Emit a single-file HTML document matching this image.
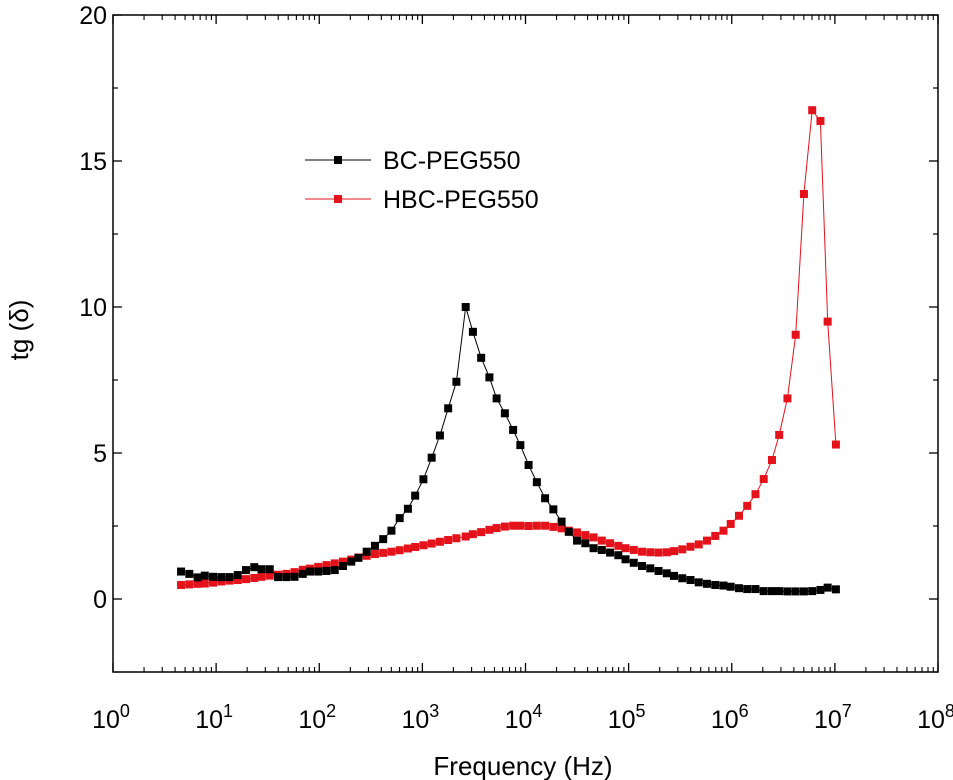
<!DOCTYPE html>
<html><head><meta charset="utf-8"><style>
html,body{margin:0;padding:0;background:#fff;}
svg{display:block;font-family:"Liberation Sans",sans-serif;}
</style></head><body>
<svg id="chart" width="953" height="780" viewBox="0 0 953 780"></svg>
<script>
const logFreq=[0.66,0.74,0.82,0.89,0.97,1.05,1.13,1.21,1.29,1.37,1.44,1.52,1.60,1.68,1.76,1.84,1.91,1.99,2.07,2.15,2.23,2.31,2.38,2.46,2.54,2.62,2.70,2.78,2.86,2.93,3.01,3.09,3.17,3.25,3.33,3.42,3.49,3.57,3.65,3.72,3.80,3.88,3.95,4.03,4.11,4.19,4.27,4.35,4.42,4.50,4.58,4.66,4.74,4.82,4.90,4.97,5.05,5.13,5.21,5.29,5.37,5.44,5.52,5.60,5.68,5.76,5.84,5.92,5.99,6.07,6.15,6.23,6.31,6.39,6.46,6.54,6.62,6.70,6.78,6.86,6.93,7.01];
const bcValues=[0.94,0.86,0.74,0.80,0.76,0.75,0.75,0.82,0.99,1.09,1.02,1.02,0.75,0.75,0.76,0.86,0.94,0.94,0.96,0.99,1.13,1.28,1.41,1.62,1.82,2.05,2.34,2.77,3.09,3.54,4.10,4.84,5.60,6.53,7.44,10.0,9.15,8.26,7.59,6.87,6.36,5.79,5.27,4.59,4.00,3.45,3.07,2.65,2.30,2.00,1.91,1.74,1.68,1.59,1.50,1.36,1.24,1.13,1.05,0.96,0.88,0.79,0.71,0.65,0.57,0.52,0.48,0.46,0.42,0.37,0.34,0.34,0.27,0.27,0.27,0.26,0.26,0.26,0.27,0.31,0.39,0.33];
const hbcValues=[0.48,0.50,0.52,0.53,0.56,0.60,0.63,0.65,0.68,0.72,0.76,0.80,0.83,0.86,0.92,1.00,1.04,1.10,1.16,1.22,1.28,1.35,1.42,1.48,1.54,1.58,1.62,1.67,1.73,1.78,1.84,1.90,1.96,2.02,2.08,2.14,2.22,2.29,2.37,2.43,2.48,2.51,2.51,2.50,2.51,2.51,2.47,2.42,2.34,2.28,2.19,2.11,2.00,1.91,1.82,1.74,1.68,1.62,1.60,1.59,1.60,1.64,1.70,1.79,1.87,2.00,2.16,2.34,2.57,2.85,3.19,3.59,4.11,4.76,5.62,6.87,9.05,13.87,16.74,16.37,9.50,5.29];
const yTicks=[0,5,10,15,20];
const xDecades=[0,1,2,3,4,5,6,7,8];

const NS="http://www.w3.org/2000/svg";
const svg=document.getElementById('chart');
const L=113,R=938,T=15,B=672;
const xMin=0,xMax=8,yMin=-2.5,yMax=20;
function sx(v){return L+(v-xMin)/(xMax-xMin)*(R-L);}
function sy(v){return B-(v-yMin)/(yMax-yMin)*(B-T);}
function mk(tag,attrs){const e=document.createElementNS(NS,tag);for(const k in attrs)e.setAttribute(k,attrs[k]);svg.appendChild(e);return e;}

const frame=mk('rect',{x:L,y:T,width:R-L,height:B-T,fill:'none',stroke:'#000','stroke-width':1.5});



yTicks.forEach(v=>{
  const y=sy(v);
  const t1=mk('line',{x1:L,x2:L+9,y1:y,y2:y,stroke:'#000','stroke-width':1.3});
  
  
  const t2=mk('line',{x1:R,x2:R-9,y1:y,y2:y,stroke:'#000','stroke-width':1.3});
  
  
  const tx=mk('text',{x:L-6,y:y+9,'font-size':25,'text-anchor':'end'});
  tx.textContent=v;
  
  
});
for(let v=yMin;v<yMax;v+=5){
  const y=sy(v);
  const m1=mk('line',{x1:L,x2:L+5,y1:y,y2:y,stroke:'#000','stroke-width':1.2});
  
  
  const m2=mk('line',{x1:R,x2:R-5,y1:y,y2:y,stroke:'#000','stroke-width':1.2});
  
  
}
xDecades.forEach(d=>{
  const x=sx(d);
  const t1=mk('line',{x1:x,x2:x,y1:B,y2:B-9,stroke:'#000','stroke-width':1.3});
  
  
  const t2=mk('line',{x1:x,x2:x,y1:T,y2:T+9,stroke:'#000','stroke-width':1.3});
  
  
  const tx=mk('text',{x:x-2,y:B+56,'font-size':25,'text-anchor':'middle'});
  tx.innerHTML='10<tspan dy="-11" font-size="18">'+d+'</tspan>';
  
  
  if(d<8){for(let k=2;k<=9;k++){
    const xm=sx(d+Math.log10(k));
    const m1=mk('line',{x1:xm,x2:xm,y1:B,y2:B-5,stroke:'#000','stroke-width':1.1});
    
    
    const m2=mk('line',{x1:xm,x2:xm,y1:T,y2:T+5,stroke:'#000','stroke-width':1.1});
    
    
  }}
});

const xt=mk('text',{x:523,y:775,'font-size':26,'text-anchor':'middle'});
xt.textContent='Frequency (Hz)';


const yt=mk('text',{x:0,y:0,'font-size':26,'text-anchor':'middle',transform:'translate(28,330) rotate(-90)'});
yt.textContent='tg (\u03b4)';



function series(vals,color,name){
  const pts=vals.map((v,i)=>sx(logFreq[i]).toFixed(1)+','+sy(v).toFixed(1)).join(' ');
  const pl=mk('polyline',{points:pts,fill:'none',stroke:color,'stroke-width':1});
  
  
  vals.forEach((v,i)=>{
    const r=mk('rect',{x:sx(logFreq[i])-4,y:sy(v)-4,width:8,height:8,fill:color});
    
    
  });
}
series(hbcValues,'#e3121b','hbc-peg550');
series(bcValues,'#000','bc-peg550');

function legend(y,color,label,name){
  const l=mk('line',{x1:305,x2:371,y1:y,y2:y,stroke:color,'stroke-width':1});
  
  
  const r=mk('rect',{x:334,y:y-4,width:8,height:8,fill:color});
  
  
  const t=mk('text',{x:383,y:y+9,'font-size':25});
  t.textContent=label;
  
  
}
legend(160,'#000','BC-PEG550','bc-peg550');
legend(199,'#e3121b','HBC-PEG550','hbc-peg550');
</script>
</body></html>
